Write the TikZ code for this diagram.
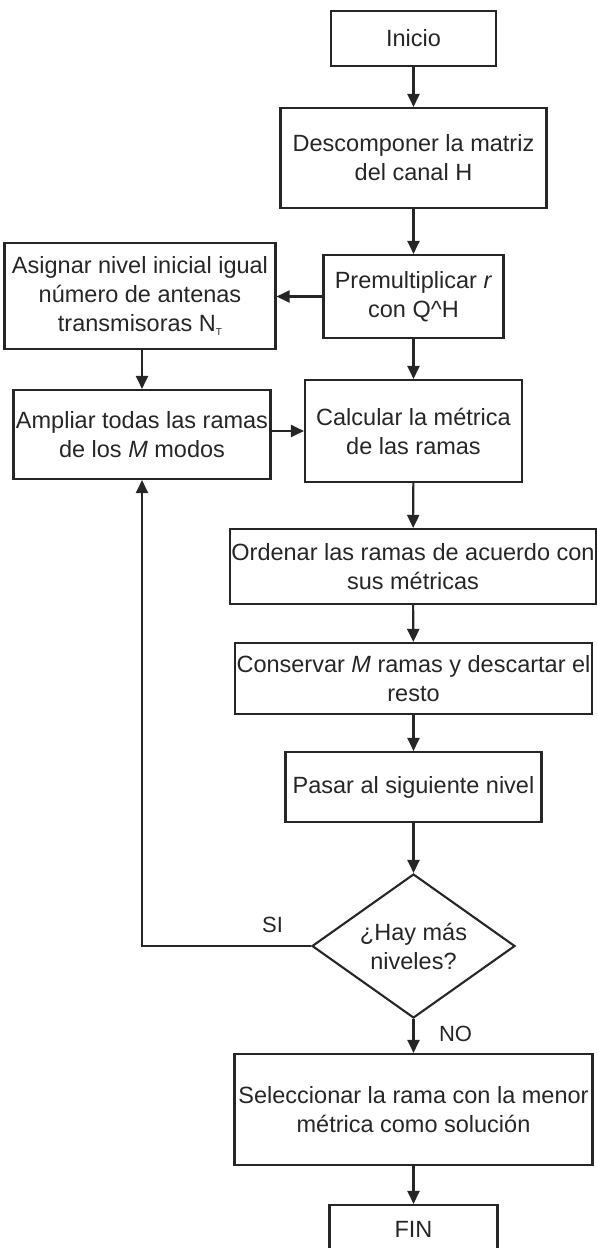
\documentclass[tikz,border=0pt]{standalone}
\usepackage{fontspec}
\setmainfont{Liberation Sans}
\usetikzlibrary{shapes.geometric,arrows.meta}
\begin{document}
\begin{tikzpicture}[x=1pt,y=-1pt,
  every node/.style={text=black!85},
  box/.style={draw=black!85,line width=2.1pt,rectangle,inner sep=0pt,align=center,
    font=\fontsize{23.5}{29}\selectfont},
  decision/.style={draw=black!85,line width=2.1pt,diamond,inner sep=0pt,align=center,aspect=1.4,
    font=\fontsize{23.5}{29}\selectfont},
  lbl/.style={font=\fontsize{22}{26}\selectfont,inner sep=0pt},
  arr/.style={draw=black!85,line width=2.1pt,-{Triangle[length=13pt,width=12pt]}},
  ln/.style={draw=black!85,line width=2.1pt}]
\useasboundingbox (0,0) rectangle (597,1248);
\node[box,minimum width=165,minimum height=55] (inicio) at (413.5,38.5) {Inicio};
\node[box,minimum width=266,minimum height=100] (desc) at (413.5,158) {Descomponer la matriz\\del canal H};
\node[box,minimum width=180,minimum height=83] (prem) at (413.5,296.5) {Premultiplicar \textit{r}\\con Q\textasciicircum H};
\node[box,minimum width=271,minimum height=106] (asig) at (140,296) {Asignar nivel inicial igual\\número de antenas\\transmisoras N\raisebox{-0.35ex}{\fontsize{10}{10}\selectfont T}};
\node[box,minimum width=257,minimum height=89] (ampl) at (142,434.5) {Ampliar todas las ramas\\de los \textit{M} modos};
\node[box,minimum width=217,minimum height=102] (calc) at (413.5,431) {Calcular la métrica\\de las ramas};
\node[box,minimum width=366,minimum height=75] (orden) at (413,566.5) {Ordenar las ramas de acuerdo con\\sus métricas};
\node[box,minimum width=357,minimum height=71] (cons) at (413.5,678.5) {Conservar \textit{M} ramas y descartar el\\resto};
\node[box,minimum width=256,minimum height=70] (pasar) at (413.5,787) {Pasar al siguiente nivel};
\node[decision,minimum width=203,minimum height=144] (dia) at (413.5,946) {¿Hay más\\niveles?};
\node[box,minimum width=358,minimum height=111] (sel) at (413.5,1109.5) {Seleccionar la rama con la menor\\métrica como solución};
\node[box,minimum width=168,minimum height=48] (fin) at (413.5,1229) {FIN};
\node[lbl] (si) at (272.5,925) {SI};
\node[lbl] (no) at (455.5,1034) {NO};
\coordinate (loop) at (142,946);
\draw[arr] (inicio) -- (desc);
\draw[arr] (desc) -- (prem);
\draw[arr] (prem.west) -- (asig.east |- prem.west);
\draw[arr] (ampl.north |- asig.south) -- (ampl.north);
\draw[arr] (ampl.east |- calc.west) -- (calc.west);
\draw[arr] (prem) -- (calc);
\draw[arr] (calc) -- (orden);
\draw[arr] (orden) -- (cons);
\draw[arr] (cons) -- (pasar);
\draw[arr] (pasar) -- (dia);
\draw[arr] (dia.south) -- (sel.north);
\draw[arr] (dia.west) -- (loop) -- (ampl.south);
\draw[arr] (sel) -- (fin);
\end{tikzpicture}
\end{document}
